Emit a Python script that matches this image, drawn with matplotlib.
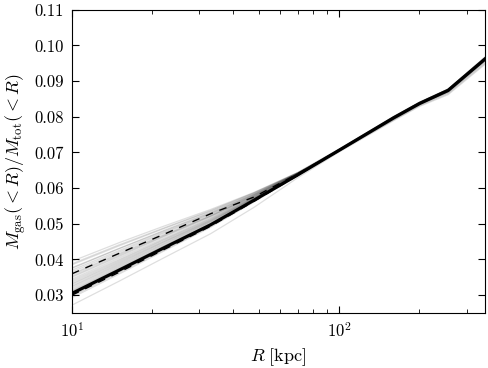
import numpy as np
import matplotlib
matplotlib.use('Agg')
import matplotlib.pyplot as plt

plt.rcParams['font.family'] = 'serif'
plt.rcParams['font.serif'] = ['cmr10']
plt.rcParams['mathtext.fontset'] = 'cm'
plt.rcParams['axes.formatter.use_mathtext'] = True
plt.rcParams['axes.unicode_minus'] = False

# radii [kpc]
radius = [10, 15, 22, 33, 48, 70, 100, 160, 200, 256, 352]

# main (median) profile
main_frac = [0.0305, 0.0370, 0.0432, 0.0497, 0.0566, 0.0637, 0.0706, 0.0797, 0.0837, 0.0874, 0.0962]

# dashed profiles
dash_upper = [0.0360, 0.0417, 0.0470, 0.0528, 0.0575, 0.0640, 0.0707, 0.0797, 0.0837, 0.0874, 0.0962]
dash_lower = [0.0300, 0.0364, 0.0427, 0.0493, 0.0563, 0.0636, 0.0706, 0.0797, 0.0837, 0.0874, 0.0962]

# individual realisations (x1e-4)
realisations = [
    [395, 447, 493, 540, 588, 644, 709, 799, 840, 875, 964],
    [388, 441, 488, 537, 587, 643, 708, 800, 840, 877, 966],
    [385, 438, 486, 535, 586, 643, 704, 794, 836, 871, 960],
    [377, 431, 481, 532, 584, 643, 710, 801, 841, 878, 967],
    [375, 430, 479, 530, 583, 642, 706, 798, 838, 875, 962],
    [370, 425, 476, 528, 582, 642, 705, 796, 838, 873, 961],
    [365, 421, 473, 526, 581, 642, 708, 798, 839, 876, 965],
    [360, 417, 469, 523, 580, 641, 707, 796, 837, 872, 959],
    [357, 414, 467, 522, 579, 641, 703, 792, 834, 868, 956],
    [353, 411, 465, 521, 578, 641, 709, 801, 841, 878, 968],
    [350, 408, 463, 519, 577, 641, 707, 799, 839, 875, 963],
    [345, 404, 459, 516, 576, 640, 705, 797, 837, 874, 961],
    [341, 400, 456, 514, 575, 640, 704, 795, 835, 871, 958],
    [337, 397, 454, 512, 574, 640, 708, 800, 841, 877, 966],
    [333, 394, 451, 510, 573, 639, 706, 798, 839, 875, 963],
    [330, 391, 449, 509, 572, 639, 704, 794, 835, 870, 958],
    [326, 388, 447, 507, 571, 638, 707, 799, 840, 877, 965],
    [323, 385, 444, 506, 571, 638, 706, 796, 838, 874, 961],
    [319, 382, 442, 504, 570, 638, 706, 797, 838, 874, 962],
    [315, 379, 439, 502, 569, 638, 707, 798, 839, 876, 964],
    [312, 376, 437, 500, 568, 637, 705, 795, 836, 871, 959],
    [310, 374, 435, 499, 567, 637, 705, 796, 837, 872, 960],
    [307, 372, 433, 498, 566, 637, 707, 799, 840, 877, 966],
    [303, 368, 430, 496, 565, 637, 706, 797, 838, 874, 962],
    [300, 366, 429, 495, 565, 637, 706, 795, 836, 871, 957],
    [297, 363, 426, 493, 563, 636, 705, 793, 833, 868, 953],
    [293, 359, 423, 490, 561, 635, 704, 791, 831, 865, 950],
    [272, 339, 404, 472, 546, 629, 701, 789, 829, 862, 947],
]

fig = plt.figure(figsize=(4.88, 3.68), dpi=100)
ax = fig.add_axes([0.1475, 0.1495, 0.8465, 0.824])

for row in realisations:
    ax.plot(radius, np.array(row) * 1e-4, color='k', alpha=0.13, lw=0.9, zorder=1)

ax.plot(radius, main_frac, color='k', lw=2.3, zorder=3)
ax.plot(radius, dash_upper, color='k', lw=1.0, dashes=(5.5, 5), zorder=4)
ax.plot(radius, dash_lower, color='k', lw=1.0, dashes=(5.5, 5), zorder=4)

ax.set_xscale('log')
ax.set_xlim(10, 352)
ax.set_ylim(0.025, 0.11)
ax.set_yticks(np.arange(0.03, 0.111, 0.01))
ax.yaxis.set_major_formatter(matplotlib.ticker.FormatStrFormatter('%.2f'))

ax.tick_params(which='both', direction='in', top=True, right=True, labelsize=12)
ax.tick_params(which='major', length=5, pad=6)
ax.tick_params(which='minor', length=3)

ax.set_xlabel(r'$R\ [\mathrm{kpc}]$', fontsize=13)
ax.set_ylabel(r'$M_{\rm gas}(<R)/M_{\rm tot}(<R)$', fontsize=13)

fig.savefig('out.png', dpi=100)
